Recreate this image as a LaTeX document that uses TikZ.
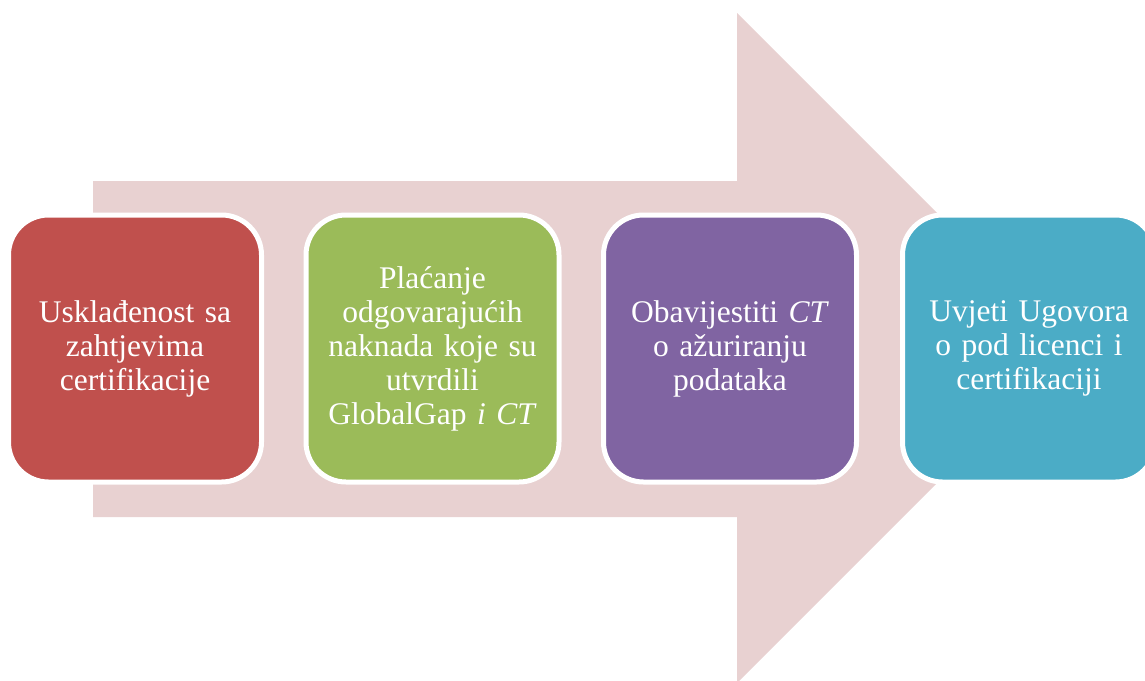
\documentclass[tikz,border=0pt]{standalone}
\usepackage{fontspec}
\setmainfont{Liberation Serif}
\usepackage{tikz}
\usetikzlibrary{positioning}
\definecolor{arrowpink}{HTML}{E8D1D1}
\definecolor{redbox}{HTML}{C0504D}
\definecolor{greenbox}{HTML}{9BBB59}
\definecolor{purplebox}{HTML}{8064A2}
\definecolor{aquabox}{HTML}{4BACC6}
\tikzset{
	block/.style    = {draw=white, line width=5pt, rectangle,
		rounded corners=40pt,
		minimum height = 267pt,
		minimum width = 253pt,
		text width = 244pt, align=center,
		text=white, inner sep=0pt,
		font=\fontsize{31.5}{34}\selectfont},
}

\begin{document}
\begin{tikzpicture}[ x=1pt, y=-1pt ]             %<--one unit is one pixel, y going down

    \useasboundingbox (0,0) rectangle (1145,680);
    \clip (0,0) rectangle (1145,680);

    %Drawing the big Arrow:
    \fill[arrowpink] (93,181) -- (737,181) -- (737,13) -- (1072,348)
        -- (737,683) -- (737,517) -- (93,517) -- cycle;

    \draw%-----------------------------------------------------------------------------------------
    	%Drawing the Step Blocks:
    	node(uskladenost) at (135,348.5) [block, fill=redbox]
    	    {Usklađenost sa\\ zahtjevima\\ certifikacije}
    	node(placanje) at (432.5,348.5) [block, fill=greenbox]
    	    {Plaćanje\\ odgovarajućih\\ naknada koje su\\ utvrdili\\ GlobalGap \textit{i CT}}
    	node(obavijest) at (730,348.5) [block, fill=purplebox]
    	    {Obavijestiti \textit{CT}\\ o ažuriranju\\ podataka}
    	node(uvjeti) at (1029,348.5) [block, fill=aquabox]
    	    {Uvjeti Ugovora\\ o pod licenci i\\ certifikaciji}
    ;%---------------------------------------------------------------------------------------------
  \end{tikzpicture}
\end{document}
